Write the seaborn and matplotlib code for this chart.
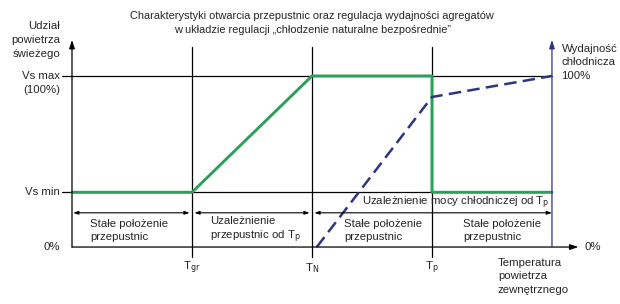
# -*- coding: utf-8 -*-
"""
Charakterystyki otwarcia przepustnic - schemat regulacji
"""

import pandas as pd
import seaborn as sns
import matplotlib.pyplot as plt
from matplotlib import rcParams

# -------------------------------------------------------------------
# Style
# -------------------------------------------------------------------
sns.set_style("white")
rcParams['font.family'] = ['Liberation Sans Narrow', 'Liberation Sans', 'DejaVu Sans']
rcParams['font.size'] = 8.2

green = "#2e9e5b"
navy = "#2d3580"

# -------------------------------------------------------------------
# Data (x in temperature steps: 0 = left axis, 1 = Tgr, 2 = TN, 3 = Tp, 4 = right axis)
# -------------------------------------------------------------------
temp_ticks = [1, 2, 3]
temp_labels = [r"T$_\mathrm{gr}$", r"T$_\mathrm{N}$", r"T$_\mathrm{p}$"]

vs_min = 0.32
vs_max = 1.0

green_x = [0, 1, 2, 3, 3, 4]
green_y = [vs_min, vs_min, vs_max, vs_max, vs_min, vs_min]

blue_x = [2.04, 3, 4]
blue_y = [0.0, 0.877, 1.0]

df_green = pd.DataFrame({"t": green_x, "v": green_y})
df_blue = pd.DataFrame({"t": blue_x, "v": blue_y})

# -------------------------------------------------------------------
# Figure
# -------------------------------------------------------------------
fig = plt.figure(figsize=(6.2, 3.04), dpi=100)
ax = fig.add_axes([0, 0, 1, 1])
ax.set_xlim(-0.6, 4.567)
ax.set_ylim(-0.333, 1.444)
ax.axis("off")

# grid lines
ax.plot([-0.08, 4], [vs_max, vs_max], color="black", lw=0.9)
ax.plot([-0.08, 4], [vs_min, vs_min], color="black", lw=0.9)
for t in temp_ticks:
    ax.plot([t, t], [-0.06, 1.17], color="black", lw=0.9)

# axes with arrows
ax.annotate("", xy=(0, 1.21), xytext=(0, 0),
            arrowprops=dict(arrowstyle="-|>,head_length=0.6,head_width=0.2",
                            color="black", lw=0.9, shrinkA=0, shrinkB=0))
ax.annotate("", xy=(4.22, 0), xytext=(0, 0),
            arrowprops=dict(arrowstyle="-|>,head_length=0.6,head_width=0.2",
                            color="black", lw=0.9, shrinkA=0, shrinkB=0))
ax.annotate("", xy=(4, 1.21), xytext=(4, 0),
            arrowprops=dict(arrowstyle="-|>,head_length=0.6,head_width=0.2",
                            color=navy, lw=0.9, shrinkA=0, shrinkB=0))

# region arrows
for a, b in [(0.01, 0.98), (1.02, 1.98), (2.02, 4.0)]:
    ax.annotate("", xy=(b, 0.2), xytext=(a, 0.2),
                arrowprops=dict(arrowstyle="<|-|>,head_length=0.35,head_width=0.12",
                                color="black", lw=0.8, shrinkA=0, shrinkB=0))

# lines
sns.lineplot(data=df_green, x="t", y="v", sort=False, estimator=None,
             color=green, lw=2.1, ax=ax)
sns.lineplot(data=df_blue, x="t", y="v", sort=False, estimator=None,
             color=navy, lw=1.8, ax=ax, dashes=False, linestyle=(0, (5, 2.5)))
ax.axis("off")

# -------------------------------------------------------------------
# Texts
# -------------------------------------------------------------------
ax.text(2.0, 1.31, "Charakterystyki otwarcia przepustnic oraz regulacja wydajności agregatów\n"
        "w układzie regulacji \u201echłodzenie naturalne bezpośrednie\u201d",
        ha="center", va="center", fontsize=7.9, linespacing=1.4)

ax.text(-0.1, 1.21, "Udział\npowietrza\nświeżego", ha="right", va="center", linespacing=1.45)
ax.text(-0.1, vs_max, "Vs max", ha="right", va="center")
ax.text(-0.1, 0.915, "(100%)", ha="right", va="center")
ax.text(-0.1, vs_min, "Vs min", ha="right", va="center")
ax.text(-0.1, 0, "0%", ha="right", va="center")

ax.text(4.08, 1.08, "Wydajność\nchłodnicza\n100%", ha="left", va="center", linespacing=1.45)
ax.text(4.27, 0, "0%", ha="left", va="center")
ax.text(3.55, -0.17, "Temperatura\npowietrza\nzewnętrznego", ha="left", va="center", linespacing=1.45)

for t, lab in zip(temp_ticks, temp_labels):
    ax.text(t, -0.123, lab, ha="center", va="center")

ax.text(0.15, 0.096, "Stałe położenie\nprzepustnic", ha="left", va="center", linespacing=1.3)
ax.text(1.15, 0.096, "Uzależnienie\nprzepustnic od T$_\\mathrm{p}$", ha="left", va="center", linespacing=1.3)
ax.text(2.27, 0.096, "Stałe położenie\nprzepustnic", ha="left", va="center", linespacing=1.3)
ax.text(3.26, 0.096, "Stałe położenie\nprzepustnic", ha="left", va="center", linespacing=1.3)
ax.text(3.2, 0.257, "Uzależnienie mocy chłodniczej od T$_\\mathrm{p}$", ha="center", va="center")

plt.savefig("out.png", dpi=100)
plt.close()
